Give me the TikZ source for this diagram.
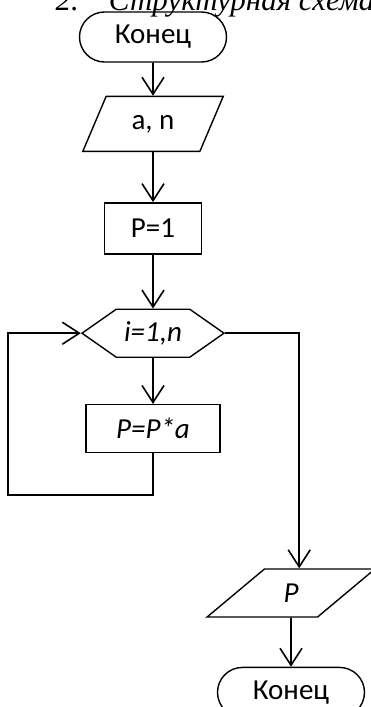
\documentclass[tikz,border=0pt]{standalone}
\usepackage{fontspec}
\setmainfont{Carlito}
\newfontfamily\headfont{Liberation Serif}
\usetikzlibrary{positioning,shapes.geometric,shapes.symbols,arrows.meta}

\begin{document}
\begin{tikzpicture}[x=1pt, y=1pt,
        node distance=50pt,
        every node/.style={draw, line width=1.4pt, align=center, inner sep=0pt, font=\fontsize{29}{32}\selectfont},
        term/.style={rounded corners=25pt, minimum width=147pt, minimum height=50pt},
        iobox/.style={trapezium, trapezium stretches=true, trapezium left angle=#1, trapezium right angle=180-#1},
        proc/.style={rectangle, minimum height=50pt},
        loopbox/.style={signal, signal to=east and west, signal pointer angle=70, minimum width=142pt, minimum height=48pt},
        >={Straight Barb[length=17pt, width=22pt]}
    ]
        \clip (0,0) rectangle (371,-707);

        % Header (cut off at the top)
        \node[draw=none, anchor=base west, font=\headfont\itshape\fontsize{31}{34}\selectfont] (title) at (55,-10) {2.\hspace{30pt}Структурная схема};

        % Nodes
        \node[term] (start) at (153,-37) {Конец};
        \node[iobox=59, minimum width=141pt, minimum height=55pt] (input) [below=33pt of start] {a, n};
        \node[proc, minimum width=97pt, minimum height=51pt] (init) [below=50pt of input] {P=1};
        \node[loopbox] (cycle) [below=54pt of init] {\itshape i=1,n};
        \node[proc, minimum width=134pt, minimum height=48pt] (body) [below=46pt of cycle] {\itshape P=P*a};
        \node[iobox=49, minimum width=168pt, minimum height=48pt] (output) at (291,-593) {\itshape P};
        \node[term] (stop) [below=49pt of output] {Конец};

        \coordinate (back) at (8,-495);
        \coordinate (exit) at ([xshift=74pt]cycle.east);

        % Arrows
        \begin{scope}[line width=1.6pt]
        \draw[->] (start) -- (input);
        \draw[->] (input) -- (init);
        \draw[->] (init) -- (cycle);
        \draw[->] (cycle) -- (body);
        \draw[->] (body.south) -- (body.south |- back) -- (back) |- (cycle.west);
        \draw[->] (cycle.east) -- (exit) -- (exit |- output.north);
        \draw[->] (output) -- (stop);
        \end{scope}
    \end{tikzpicture}
\end{document}
